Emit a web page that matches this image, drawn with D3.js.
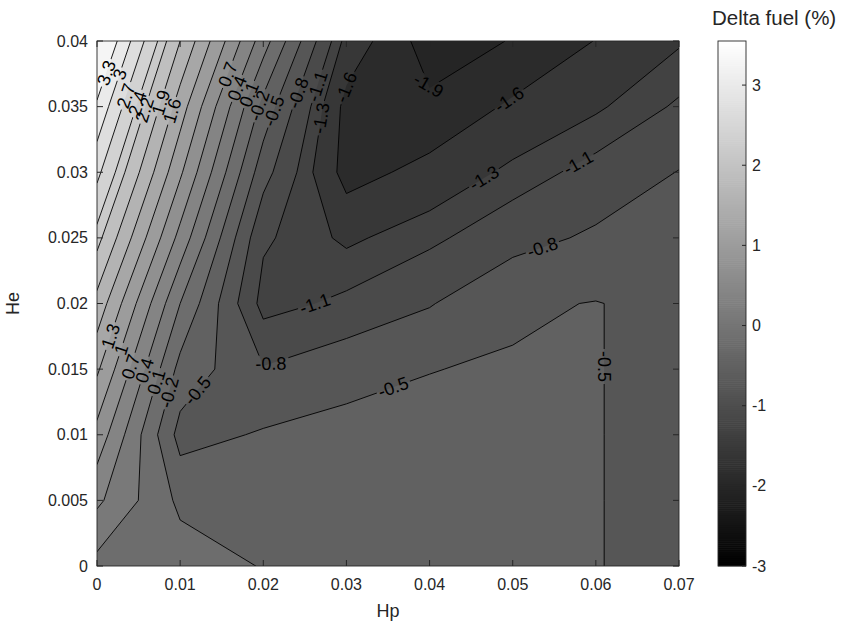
<!DOCTYPE html>
<html>
<head>
<meta charset="utf-8">
<script src="https://cdn.jsdelivr.net/npm/d3@7/dist/d3.min.js"></script>
<style>
  html,body{margin:0;padding:0;background:#fff;}
  svg{display:block;}
  text{font-family:"Liberation Sans", Arial, Helvetica, sans-serif; fill:#262626;}
</style>
</head>
<body>
<svg id="chart" width="846" height="635"></svg>
<script>
// ---------------- data ----------------
const hpValues = [0, 0.01, 0.02, 0.03, 0.04, 0.05, 0.06, 0.07];
const heValues = [0, 0.005, 0.01, 0.015, 0.02, 0.025, 0.03, 0.035, 0.04];
// Delta fuel (%) for each He row, along Hp
const fuelHe000 = [0.00, -0.05, -0.215, -0.30, -0.35, -0.40, -0.49, -0.59];
const fuelHe005 = [0.46, -0.264, -0.30, -0.35, -0.40, -0.43, -0.49, -0.59];
const fuelHe010 = [0.90, -0.61, -0.47, -0.42, -0.44, -0.45, -0.49, -0.59];
const fuelHe015 = [1.35, -0.30, -0.78, -0.59, -0.505, -0.477, -0.49, -0.59];
const fuelHe020 = [1.80, 0.10, -1.20, -1.04, -0.82, -0.54, -0.49, -0.59];
const fuelHe025 = [2.30, 0.60, -1.057, -1.35, -1.16, -0.91, -0.75, -0.68];
const fuelHe030 = [2.78, 1.05, -0.68, -1.72, -1.50, -1.24, -1.00, -0.79];
const fuelHe035 = [3.25, 1.45, -0.30, -1.70, -1.84, -1.55, -1.34, -1.06];
const fuelHe040 = [3.75, 1.90, 0.24, -1.39, -2.05, -1.885, -1.59, -1.33];

const contourLevels = [-1.9, -1.6, -1.3, -1.1, -0.8, -0.5, -0.2, 0.1, 0.4, 0.7, 1.0, 1.3, 1.6, 1.9, 2.2, 2.4, 2.7, 3.0, 3.3];
const xTickValues = [0, 0.01, 0.02, 0.03, 0.04, 0.05, 0.06, 0.07];
const yTickValues = [0, 0.005, 0.01, 0.015, 0.02, 0.025, 0.03, 0.035, 0.04];
const colorbarTicks = [-3, -2, -1, 0, 1, 2, 3];
const colorLimits = [-3, 3.55];
// approximate places (Hp, He) of the inline contour labels
const labelLevels = [3.3, 3.0, 2.7, 2.4, 2.2, 1.9, 1.6, 0.7, 0.4, 0.1, -0.2, -0.5, -0.8, -1.1, -1.3, -1.6, -1.9, -1.6, -1.3, -1.1, -0.8, -0.5, -0.5, -0.8, -1.1, 1.3, 1.0, 0.7, 0.4, 0.1, -0.2, -0.5];
const labelHp = [0.0019, 0.0040, 0.0050, 0.0060, 0.0070, 0.0082, 0.0100, 0.0164, 0.0172, 0.0184, 0.0198, 0.0220, 0.0248, 0.0277, 0.0272, 0.0304, 0.0398, 0.0494, 0.0467, 0.0579, 0.0533, 0.0615, 0.0352, 0.0212, 0.0262, 0.0022, 0.0043, 0.0050, 0.0062, 0.0072, 0.0088, 0.0120];
const labelHe = [0.0374, 0.0372, 0.0355, 0.0350, 0.0345, 0.0352, 0.0345, 0.0373, 0.0363, 0.0359, 0.0350, 0.0345, 0.0359, 0.0363, 0.0341, 0.0364, 0.0366, 0.0357, 0.0294, 0.0307, 0.0248, 0.0152, 0.0144, 0.0149, 0.0200, 0.0174, 0.0162, 0.0150, 0.0148, 0.0140, 0.0132, 0.0134];

// ---------------- layout ----------------
const svg = d3.select("#chart");
const plot = {left: 97, right: 679, top: 41, bottom: 566};
const x = d3.scaleLinear().domain([0, 0.07]).range([plot.left, plot.right]);
const y = d3.scaleLinear().domain([0, 0.04]).range([plot.bottom, plot.top]);
const color = d3.scaleLinear().domain(colorLimits).range(["#000000", "#ffffff"]).clamp(true);

const nx = hpValues.length, ny = heValues.length;
const grid = [fuelHe000, fuelHe005, fuelHe010, fuelHe015, fuelHe020, fuelHe025, fuelHe030, fuelHe035, fuelHe040].flat();
const gridToHp = d3.scaleLinear().domain([0.5, nx - 0.5]).range([hpValues[0], hpValues[nx - 1]]);
const gridToHe = d3.scaleLinear().domain([0.5, ny - 0.5]).range([heValues[0], heValues[ny - 1]]);
const toPx = p => [x(gridToHp(p[0])), y(gridToHe(p[1]))];
const path = d3.geoPath(d3.geoTransform({
  point(px, py) { const q = toPx([px, py]); this.stream.point(q[0], q[1]); }
}));

const contours = d3.contours().size([nx, ny]).thresholds(contourLevels)(grid);

const defs = svg.append("defs");
defs.append("clipPath").attr("id", "plotClip")
  .append("rect").attr("x", plot.left).attr("y", plot.top)
  .attr("width", plot.right - plot.left).attr("height", plot.bottom - plot.top);

// filled bands
const fills = svg.append("g").attr("clip-path", "url(#plotClip)");
fills.append("rect").attr("x", plot.left).attr("y", plot.top)
  .attr("width", plot.right - plot.left).attr("height", plot.bottom - plot.top)
  .attr("fill", color(d3.min(grid)));
fills.selectAll("path.band").data(contours).join("path")
  .attr("class", "band").attr("d", path).attr("fill", d => color(d.value)).attr("stroke", "none");

// ---------------- contour labels ----------------
const fmt = v => String(Number(v.toFixed(1)));
const labelFont = 18;
const labelG = svg.append("g").attr("clip-path", "url(#plotClip)");
const measure = svg.append("text").style("font-size", labelFont + "px").attr("x", -999).attr("y", -999);
const textWidth = s => { measure.text(s); return measure.node().getComputedTextLength(); };
const insidePlot = p => p[0] >= plot.left - 0.5 && p[0] <= plot.right + 0.5 && p[1] >= plot.top - 0.5 && p[1] <= plot.bottom + 0.5;
const pointAt = (pts, cum, s) => {
  s = Math.max(0, Math.min(cum[cum.length - 1], s));
  let k = d3.bisectRight(cum, s) - 1;
  k = Math.max(0, Math.min(pts.length - 2, k));
  const seg = cum[k + 1] - cum[k];
  const t = seg > 0 ? (s - cum[k]) / seg : 0;
  return [pts[k][0] + t * (pts[k + 1][0] - pts[k][0]), pts[k][1] + t * (pts[k + 1][1] - pts[k][1])];
};
const labels = [];
labelLevels.forEach((lev, i) => {
  const c = contours.find(d => Math.abs(d.value - lev) < 1e-9);
  if (!c) return;
  const txt = fmt(lev);
  const w = textWidth(txt);
  const ax = x(labelHp[i]), ay = y(labelHe[i]);
  let best = null;
  c.coordinates.forEach(poly => poly.forEach(ring => {
    const pts = ring.map(toPx);
    const cum = [0];
    for (let k = 1; k < pts.length; k++) cum.push(cum[k - 1] + Math.hypot(pts[k][0] - pts[k - 1][0], pts[k][1] - pts[k - 1][1]));
    for (let k = 0; k < pts.length - 1; k++) {
      const a = pts[k], b = pts[k + 1];
      if (!insidePlot(a) || !insidePlot(b)) continue;
      const dx = b[0] - a[0], dy = b[1] - a[1];
      const L2 = dx * dx + dy * dy;
      if (L2 < 1e-9) continue;
      let t = ((ax - a[0]) * dx + (ay - a[1]) * dy) / L2;
      t = Math.max(0, Math.min(1, t));
      const px = a[0] + t * dx, py = a[1] + t * dy;
      const dist = Math.hypot(px - ax, py - ay);
      if (!best || dist < best.dist) {
        const s0 = cum[k] + t * Math.sqrt(L2);
        const p1 = pointAt(pts, cum, s0 - w / 2), p2 = pointAt(pts, cum, s0 + w / 2);
        best = {dist, px, py, ang: Math.atan2(p2[1] - p1[1], p2[0] - p1[0]) * 180 / Math.PI};
      }
    }
  }));
  if (!best) return;
  let ang = best.ang;
  if (ang > 90) ang -= 180;
  if (ang <= -90) ang += 180;
  labels.push({text: txt, w, px: best.px, py: best.py, ang});
});
measure.remove();

labelG.selectAll("text").data(labels).join("text")
  .attr("transform", d => `translate(${d.px},${d.py}) rotate(${d.ang})`)
  .attr("text-anchor", "middle").attr("dy", "0.35em")
  .style("font-size", labelFont + "px").style("fill", "#000")
  .text(d => d.text);

const mask = defs.append("mask").attr("id", "lineMask").attr("maskUnits", "userSpaceOnUse")
  .attr("x", 0).attr("y", 0).attr("width", 846).attr("height", 635);
mask.append("rect").attr("x", 0).attr("y", 0).attr("width", 846).attr("height", 635).attr("fill", "#fff");
mask.selectAll("rect.hole").data(labels).join("rect").attr("class", "hole")
  .attr("transform", d => `translate(${d.px},${d.py}) rotate(${d.ang})`)
  .attr("x", d => -d.w / 2 - 2).attr("y", -labelFont * 0.45).attr("width", d => d.w + 4).attr("height", labelFont * 0.9)
  .attr("fill", "#000");

// contour lines
const lineWrap = svg.insert("g", () => labelG.node()).attr("clip-path", "url(#plotClip)");
lineWrap.append("g").attr("mask", "url(#lineMask)")
  .selectAll("path").data(contours).join("path")
  .attr("d", path).attr("fill", "none").attr("stroke", "#000").attr("stroke-width", 0.9);

// ---------------- axes ----------------
const axisColor = "#262626";
const tickLen = 6;
const axes = svg.append("g");
axes.append("rect").attr("x", plot.left).attr("y", plot.top)
  .attr("width", plot.right - plot.left).attr("height", plot.bottom - plot.top)
  .attr("fill", "none").attr("stroke", axisColor).attr("stroke-width", 0.9);
xTickValues.forEach(v => {
  axes.append("line").attr("x1", x(v)).attr("x2", x(v)).attr("y1", plot.bottom).attr("y2", plot.bottom - tickLen).attr("stroke", axisColor);
  axes.append("line").attr("x1", x(v)).attr("x2", x(v)).attr("y1", plot.top).attr("y2", plot.top + tickLen).attr("stroke", axisColor);
});
yTickValues.forEach(v => {
  axes.append("line").attr("x1", plot.left).attr("x2", plot.left + tickLen).attr("y1", y(v)).attr("y2", y(v)).attr("stroke", axisColor);
  axes.append("line").attr("x1", plot.right).attr("x2", plot.right - tickLen).attr("y1", y(v)).attr("y2", y(v)).attr("stroke", axisColor);
});
axes.selectAll("text.xt").data(xTickValues).join("text").attr("class", "xt")
  .attr("x", d => x(d)).attr("y", plot.bottom + 24).attr("text-anchor", "middle")
  .style("font-size", "16px").text(d => String(d));
axes.selectAll("text.yt").data(yTickValues).join("text").attr("class", "yt")
  .attr("x", plot.left - 9).attr("y", d => y(d)).attr("dy", "0.35em").attr("text-anchor", "end")
  .style("font-size", "16px").text(d => String(d));
axes.append("text").attr("x", (plot.left + plot.right) / 2).attr("y", 617).attr("text-anchor", "middle")
  .style("font-size", "18px").text("Hp");
axes.append("text").attr("transform", `translate(19,${(plot.top + plot.bottom) / 2}) rotate(-90)`)
  .attr("text-anchor", "middle").style("font-size", "18px").text("He");

// ---------------- colorbar ----------------
const cb = {left: 718, right: 746, top: plot.top, bottom: plot.bottom};
const cbScale = d3.scaleLinear().domain(colorLimits).range([cb.bottom, cb.top]);
const cbG = svg.append("g");
const nSteps = 256;
const stepVals = d3.range(nSteps).map(i => colorLimits[0] + (i + 0.5) * (colorLimits[1] - colorLimits[0]) / nSteps);
const stepH = (cb.bottom - cb.top) / nSteps;
cbG.selectAll("rect.cs").data(stepVals).join("rect").attr("class", "cs")
  .attr("x", cb.left).attr("width", cb.right - cb.left)
  .attr("y", d => cbScale(d) - stepH / 2 - 0.3).attr("height", stepH + 0.6)
  .attr("fill", d => color(d));
cbG.append("rect").attr("x", cb.left).attr("y", cb.top).attr("width", cb.right - cb.left).attr("height", cb.bottom - cb.top)
  .attr("fill", "none").attr("stroke", axisColor).attr("stroke-width", 0.9);
colorbarTicks.forEach(v => {
  cbG.append("line").attr("x1", cb.right).attr("x2", cb.right - 4).attr("y1", cbScale(v)).attr("y2", cbScale(v)).attr("stroke", axisColor);
});
cbG.selectAll("text.ct").data(colorbarTicks).join("text").attr("class", "ct")
  .attr("x", cb.right + 6).attr("y", d => cbScale(d)).attr("dy", "0.35em")
  .style("font-size", "16px").text(d => String(d));
cbG.append("text").attr("x", 712).attr("y", 25).attr("text-anchor", "start")
  .style("font-size", "20.5px").text("Delta fuel (%)");
</script>
</body>
</html>
